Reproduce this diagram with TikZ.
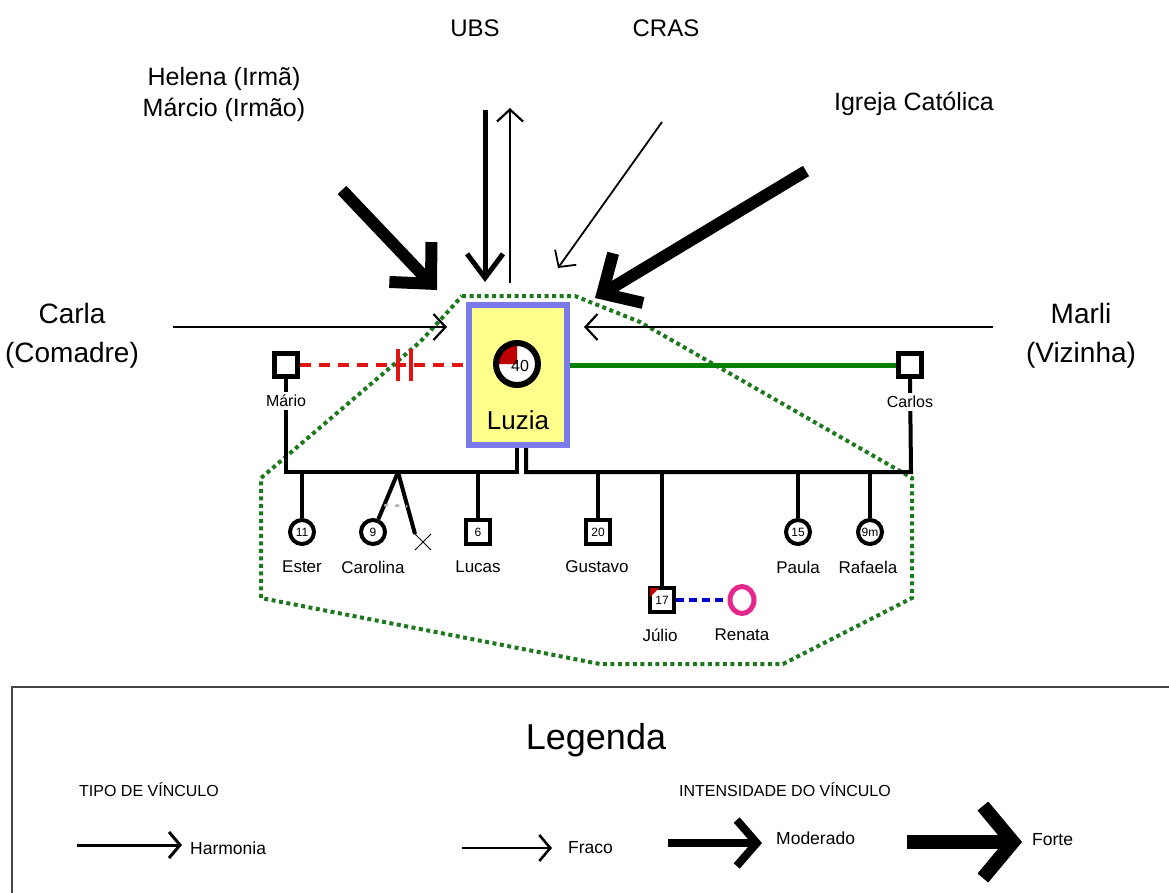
\documentclass[tikz,border=0pt]{standalone}
\usepackage{fontspec}
\setmainfont{Liberation Sans}
\usetikzlibrary{arrows.meta,shapes.misc,shapes.geometric,calc}
\definecolor{lblue}{RGB}{122,122,235}
\definecolor{lyellow}{RGB}{255,255,140}
\definecolor{kgreen}{RGB}{0,128,0}
\definecolor{dotgreen}{RGB}{30,120,30}
\definecolor{sepred}{RGB}{225,20,20}
\definecolor{dred}{RGB}{190,0,0}
\definecolor{rpink}{RGB}{230,40,140}
\definecolor{dblue}{RGB}{0,0,205}
\definecolor{boxgray}{RGB}{70,70,70}
\begin{document}
\begin{tikzpicture}[x=1pt,y=-1pt,
  txt/.style={inner sep=0pt, align=center},
  fa/.style={font=\fontsize{24}{31}\selectfont},
  fh/.style={font=\fontsize{25}{31}\selectfont},
  fb/.style={font=\fontsize{28}{39}\selectfont},
  fs/.style={font=\fontsize{16}{18}\selectfont},
  fc/.style={font=\fontsize{17}{19}\selectfont},
  fl/.style={font=\fontsize{16}{18}\selectfont},
  fk/.style={font=\fontsize{17.5}{19}\selectfont},
  sq/.style={draw, line width=4, minimum size=24, inner sep=0pt, fill=white, font=\fontsize{12}{12}\selectfont},
  pq/.style={draw, line width=5, minimum size=23, inner sep=0pt, fill=white},
  circ/.style={draw, circle, line width=4, minimum size=24, inner sep=0pt, fill=white, font=\fontsize{12}{12}\selectfont},
  kin/.style={line width=4},
  thin/.style={line width=2.2, -{Straight Barb[length=12, width=26]}},
  medium/.style={line width=5, -{Straight Barb[length=24, width=36]}},
  strong/.style={line width=12, -{Straight Barb[length=30, width=58]}},
]
\useasboundingbox (0,0) rectangle (1169,892);
\clip (0,0) rectangle (1169,892);

% ---------- outer labels ----------
\node[txt,fa] (ubs) at (475,28) {UBS};
\node[txt,fa] (cras) at (666,28) {CRAS};
\node[txt,fh] (helena) at (224,95) {Helena (Irmã)\\Márcio (Irmão)};
\node[txt,fh] (igreja) at (914,104) {Igreja Católica};
\node[txt,fb] (carla) at (72,336) {Carla\\(Comadre)};
\node[txt,fb] (marli) at (1081,336) {Marli\\(Vizinha)};

% ---------- green dotted boundary ----------
\draw[dotgreen, line width=4, dash pattern=on 4 off 3.5]
  (462,296) -- (575,296) -- (640,322) -- (912,478) -- (912,598) -- (783,664)
  -- (600,664) -- (261,598) -- (261,478) -- (420,342) -- (443,317) -- cycle;

% ---------- Luzia ----------
\node[draw=lblue, line width=6, fill=lyellow, minimum width=98, minimum height=140, inner sep=0pt] (luzia) at (518,375) {};
\node[circle, fill=white, minimum size=42, inner sep=0pt] (lz40) at (517,364) {};
\fill[dred] (lz40.center) -- ++(-21,0) arc[start angle=180, end angle=270, radius=21] -- cycle;
\draw[line width=6] (lz40.center) circle[radius=21];
\node[txt,fs] (age40) at (520,366) {40};
\node[txt,font=\fontsize{26}{28}\selectfont] (lzname) at (518,420) {Luzia};

% ---------- people ----------
\node[pq] (mario) at (286,365) {};
\node[pq] (carlos) at (910,365) {};
\node[circ] (ester) at (302,532) {11};
\node[circ] (carolina) at (373,532) {9};
\node[cross out, draw, line width=1, minimum size=15, inner sep=0pt] (miscar) at (423,542) {};
\node[sq] (lucas) at (478,532) {6};
\node[sq] (gustavo) at (598,532) {20};
\node[sq] (julio) at (662,600) {17};
\node[circ] (paula) at (798,532) {15};
\node[circ] (rafaela) at (870,532) {9m};
\node[ellipse, draw=rpink, line width=5, minimum width=24, minimum height=27, inner sep=0pt] (renata) at (742,600) {};

% ---------- family lines ----------
\coordinate (mc) at (286,472);
\coordinate (lzl) at (517,472);
\coordinate (lzr) at (526,472);
\coordinate (cc) at (911,472);
\coordinate (tw) at (398,472);
\draw[kin] (mario.south) -- (mc) -- (lzl) -- (lzl |- luzia.south);
\draw[kin] (carlos.south) -- (cc) -- (lzr) -- (lzr |- luzia.south);
\draw[kin] (ester) -- (ester |- mc);
\draw[kin] (tw) -- (carolina);
\draw[kin] (tw) -- (miscar.north west);
\draw[gray!60, line width=2.5, dash pattern=on 4 off 7] ($(tw)!0.55!(carolina)$) -- ($(tw)!0.55!(miscar.north west)$);
\draw[kin] (lucas) -- (lucas |- mc);
\draw[kin] (gustavo) -- (gustavo |- mc);
\draw[kin] (julio) -- (julio |- mc);
\draw[kin] (paula) -- (paula |- mc);
\draw[kin] (rafaela) -- (rafaela |- mc);
\draw[dblue, line width=4, dash pattern=on 8 off 5] (julio.east) -- (renata.west);
\fill[dred] (julio.north west) ++(2,2) -- ++(9,0) -- ++(-9,9) -- cycle;

% ---------- relations of Luzia ----------
\draw[kgreen, line width=5] (luzia.east |- carlos) -- (carlos.west);
\coordinate (sep) at (405,365);
\draw[sepred, line width=4, dash pattern=on 11 off 8] (mario.east) -- (mario.east -| luzia.west);
\draw[sepred, line width=4] ([xshift=-7]sep) ++(0,-16) -- ++(0,32);
\draw[sepred, line width=4] ([xshift=6]sep) ++(0,-16) -- ++(0,32);

% ---------- labels ----------
\node[txt,fs,fill=white,inner sep=3pt] (marioL) at (286,401) {Mário};
\node[txt,fs,fill=white,inner sep=3pt] (carlosL) at (910,402) {Carlos};
\node[txt,fc] (esterL) at (302,567) {Ester};
\node[txt,fc] (carolinaL) at (373,567) {Carolina};
\node[txt,fc] (lucasL) at (478,567) {Lucas};
\node[txt,fc] (gustavoL) at (597,567) {Gustavo};
\node[txt,fc] (paulaL) at (798,567) {Paula};
\node[txt,fc] (rafaelaL) at (868,567) {Rafaela};
\node[txt,fc] (julioL) at (660,635) {Júlio};
\node[txt,fc] (renataL) at (742,635) {Renata};

% ---------- arrows to Luzia ----------
\coordinate (carlaA) at (173,327);
\coordinate (carlaB) at (447,327);
\coordinate (marliA) at (993,327);
\coordinate (marliB) at (584,327);
\coordinate (ubsA) at (485,110);
\coordinate (ubsB) at (485,282);
\coordinate (ubsC) at (510,283);
\coordinate (ubsD) at (510,108);
\coordinate (crasA) at (662,122);
\coordinate (crasB) at (558,268);
\coordinate (helA) at (342,190);
\coordinate (helB) at (437,290);
\coordinate (igrA) at (806,171);
\coordinate (igrB) at (595,298);
\draw[thin] (carlaA) -- (carlaB);
\draw[thin] (marliA) -- (marliB);
\draw[medium] (ubsA) -- (ubsB);
\draw[thin] (ubsC) -- (ubsD);
\draw[thin, line width=1.8] (crasA) -- (crasB);
\draw[strong] (helA) -- (helB);
\draw[strong] (igrA) -- (igrB);

% ---------- legend ----------
\draw[boxgray, line width=2] (1200,687) -- (12,687) -- (12,900);
\node[txt,font=\fontsize{36}{40}\selectfont] (legenda) at (596,740) {Legenda};
\node[txt,fl,anchor=west] (tipo) at (79,790) {TIPO DE VÍNCULO};
\node[txt,fl,anchor=west] (inten) at (679,790) {INTENSIDADE DO VÍNCULO};
\coordinate (hA) at (77,845);
\coordinate (hB) at (182,845);
\coordinate (fA) at (462,848);
\coordinate (fB) at (552,848);
\coordinate (mA) at (668,843);
\coordinate (mB) at (762,843);
\coordinate (sA) at (907,842);
\coordinate (sB) at (1022,842);
\draw[line width=3, -{Straight Barb[length=11, width=26]}] (hA) -- (hB);
\draw[line width=2.6, -{Straight Barb[length=11, width=26]}] (fA) -- (fB);
\draw[line width=8, -{Straight Barb[length=20, width=46]}] (mA) -- (mB);
\draw[line width=14, -{Straight Barb[length=30, width=72]}] (sA) -- (sB);
\node[txt,fk,anchor=west] (harm) at (190,848) {Harmonia};
\node[txt,fk,anchor=west] (fraco) at (568,848) {Fraco};
\node[txt,fk,anchor=west] (mod) at (776,838) {Moderado};
\node[txt,fk,anchor=west] (forte) at (1032,840) {Forte};
\end{tikzpicture}
\end{document}
